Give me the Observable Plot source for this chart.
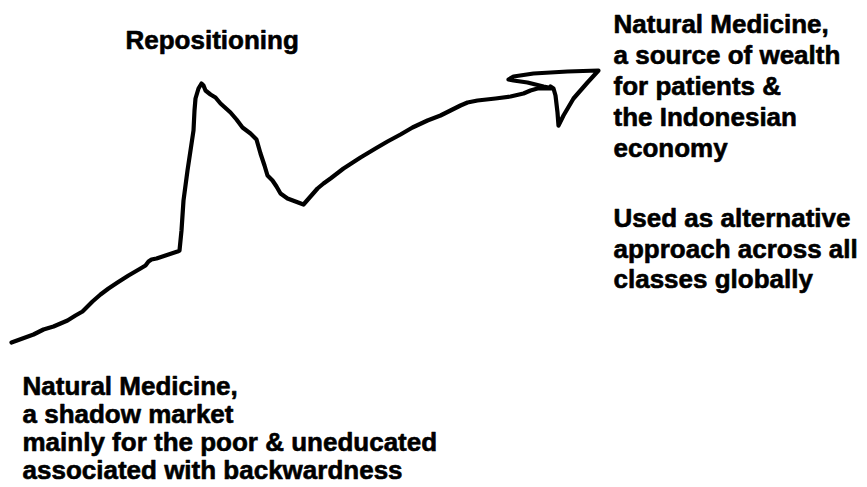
<!DOCTYPE html>
<html>
<head>
<meta charset="utf-8">
<script src="https://cdn.jsdelivr.net/npm/d3@7"></script>
<script src="https://cdn.jsdelivr.net/npm/@observablehq/plot@0.6"></script>
<style>
  html, body { margin: 0; padding: 0; background: #fff; }
  #chart svg { display: block; }
</style>
</head>
<body>
<div id="chart"></div>
<script>
// Hand-drawn trajectory: horizontal progress and perceived level (height above the bottom)
const trendX = [11,22,33,43,53,60,67,75,82,87,92,100,108,117,128,140,145,148,151,156,165,177,179,181,183,187,190,193,194,195,198,201,203,205,210,215,220,230,236,242,250,256,260,264,267,272,276,280,287,295,303,310,317,323,330,343,360,375,387,400,412,427,440,450,460,467,477,495,510,523,530,537,545,553,
  543,527,513,508,513,533,567,598,587,573,563,558,557,555,553,550];
const trendLevel = [145,149,153,158,161,164,167,172,176,181,186,193,199,205,212,219,222,226,228,229,232,236,237,257,287,317,337,357,377,389,399,404,402,397,393,390,384,375,368,360,354,348,334,322,312,307,301,294,289,286,283,291,299,304,309,319,330,339,346,353,360,367,372,377,382,385,387,389,391,394,397,399,399,399,
  401,405,407,408,411,414,416,417,405,389,372,362,375,392,399,401];

// Annotations
const labelRepositioning = "Repositioning";
const labelFuture = ["Natural Medicine,", "a source of wealth", "for patients &", "the Indonesian", "economy"];
const labelUse = ["Used as alternative", "approach across all", "classes globally"];
const labelPast = ["Natural Medicine,", "a shadow market", "mainly for the poor & uneducated", "associated with backwardness"];

const W = 867, H = 487;
const trend = trendX.map((x, i) => ({x, y: trendLevel[i]}));

const textStyle = {
  fontSize: 26,
  fontWeight: "bold",
  fontFamily: "'Liberation Sans', Arial, sans-serif",
  fill: "#000",
  stroke: "#000",
  strokeWidth: 0.6,
  textAnchor: "start",
  lineAnchor: "top"
};

const chart = Plot.plot({
  width: W,
  height: H,
  margin: 0,
  x: {domain: [0, W], axis: null},
  y: {domain: [0, H], axis: null},
  style: {background: "#fff"},
  marks: [
    Plot.line(trend, {x: "x", y: "y", stroke: "#000", strokeWidth: 4.2, strokeLinejoin: "round", strokeLinecap: "round"}),
    Plot.text([labelRepositioning], {x: 125, y: H - 30, text: d => d, ...textStyle}),
    Plot.text([labelFuture.join("\n")], {x: 613, y: H - 10, text: d => d, lineHeight: 1.2, ...textStyle}),
    Plot.text([labelUse.join("\n")], {x: 613, y: H - 205, text: d => d, lineHeight: 1.17, ...textStyle}),
    Plot.text([labelPast.join("\n")], {x: 22, y: H - 375, text: d => d, lineHeight: 1.07, ...textStyle})
  ]
});
document.getElementById("chart").appendChild(chart);
</script>
</body>
</html>
